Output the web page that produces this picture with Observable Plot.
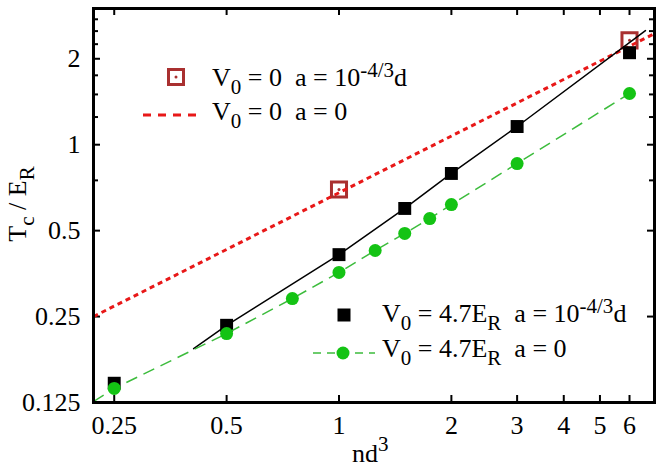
<!DOCTYPE html>
<html><head><meta charset="utf-8">
<script src="https://cdn.jsdelivr.net/npm/d3@7"></script>
<script src="https://cdn.jsdelivr.net/npm/@observablehq/plot@0.6"></script>
<style>
html,body{margin:0;padding:0;background:#fff;}
text{white-space:pre;}
</style></head><body><div id="chart"></div>
<script>
// ---- data ----
// V0 = 4.7 E_R, a = 10^{-4/3} d  (filled black squares)
const sqX = [0.25, 0.5, 1, 1.5, 2, 3, 6];
const sqY = [0.146, 0.233, 0.412, 0.598, 0.793, 1.158, 2.10];
// black solid curve
const fitX = [0.408, 0.5, 1, 1.5, 2, 3, 6.62];
const fitY = [0.193, 0.233, 0.412, 0.598, 0.793, 1.158, 2.51];
// V0 = 4.7 E_R, a = 0 (green circles)
const circX = [0.25, 0.5, 0.75, 1, 1.25, 1.5, 1.75, 2, 3, 6];
const circY = [0.140, 0.218, 0.289, 0.357, 0.426, 0.489, 0.551, 0.617, 0.859, 1.511];
// green dashed line
const greenX = [0.22, 0.25, 0.5, 0.75, 1, 1.25, 1.5, 1.75, 2, 3, 6];
const greenY = [0.126, 0.140, 0.218, 0.289, 0.357, 0.426, 0.489, 0.551, 0.617, 0.859, 1.511];
// V0 = 0, a = 10^{-4/3} d (open red squares)
const openX = [1, 6];
const openY = [0.697, 2.32];
// V0 = 0, a = 0 (red dashed line)
const idealX = [0.22, 7];
const idealY = [0.25, 2.45];
// ticks
const xTicks = [0.25, 0.5, 1, 2, 3, 4, 5, 6];
const xTickLabels = ["0.25", "0.5", "1", "2", "3", "4", "5", "6"];
const yTicks = [0.125, 0.25, 0.5, 1, 2];
const yTickLabels = ["0.125", "0.25", "0.5", "1", "2"];
const yMinor = [0.75, 1.25, 1.5, 1.75, 2.25, 2.5, 2.75];
// texts
const legendTop = ["V_{0} = 0  a = 10^{-4/3}d", "V_{0} = 0  a = 0"];
const legendBottom = ["V_{0} = 4.7E_{R}  a = 10^{-4/3}d", "V_{0} = 4.7E_{R}  a = 0"];
const xLabel = "nd^{3}";
const yLabel = "T_{c} / E_{R}";

// ---- layout ----
const W = 664, H = 468, mL = 93, mR = 10, mT = 8, mB = 66;
const fw = W - mL - mR, fh = H - mT - mB;
const FONT = "'Liberation Serif', 'Times New Roman', serif";
const RED = "#e81818", DARKRED = "#a93030", GREEN = "#14c314", GREENLINE = "#3cbc3c";

function rich(g, str, x, y, opts = {}) {
  const t = g.append("text").attr("x", x).attr("y", y)
    .attr("font-family", FONT).attr("font-size", opts.size || 26)
    .attr("fill", "black").attr("text-anchor", opts.anchor || "start");
  if (opts.transform) t.attr("transform", opts.transform);
  const parts = str.split(/(_\{[^}]*\}|\^\{[^}]*\})/).filter(s => s.length);
  let shift = 0;
  const sub = opts.sub || 8, sup = opts.sup || 9;
  for (const p of parts) {
    let want = 0, txt = p, small = false;
    if (p.startsWith("_{")) { want = sub; txt = p.slice(2, -1); small = true; }
    else if (p.startsWith("^{")) { want = -sup; txt = p.slice(2, -1); small = true; }
    const s = t.append("tspan").text(txt);
    if (want - shift !== 0) s.attr("dy", want - shift);
    if (small) s.attr("font-size", opts.small || 21);
    shift = want;
  }
  return t;
}

const decorations = () => {
  const g = d3.create("svg:g");
  // top-left legend
  g.append("rect").attr("x", 176 - 7.5).attr("y", 77 - 7.5).attr("width", 15).attr("height", 15)
    .attr("fill", "none").attr("stroke", DARKRED).attr("stroke-width", 3);
  g.append("circle").attr("cx", 176).attr("cy", 77).attr("r", 1.5).attr("fill", DARKRED);
  rich(g, legendTop[0], 212, 86);
  g.append("line").attr("x1", 143).attr("x2", 198).attr("y1", 115).attr("y2", 115)
    .attr("stroke", RED).attr("stroke-width", 3).attr("stroke-dasharray", "8,7");
  rich(g, legendTop[1], 212, 120);
  // bottom-right legend
  g.append("rect").attr("x", 344 - 6.5).attr("y", 315 - 6.5).attr("width", 13).attr("height", 13).attr("fill", "black");
  rich(g, legendBottom[0], 382, 322);
  g.append("line").attr("x1", 313).attr("x2", 375).attr("y1", 353).attr("y2", 353)
    .attr("stroke", GREENLINE).attr("stroke-width", 1.5).attr("stroke-dasharray", "8,6");
  g.append("circle").attr("cx", 343).attr("cy", 353).attr("r", 6.5).attr("fill", GREEN);
  rich(g, legendBottom[1], 382, 357);
  // axis labels
  rich(g, xLabel, 352, 462, {sup: 11});
  rich(g, yLabel, 0, 0, {anchor: "middle", transform: "translate(26,204) rotate(-90)"});
  return g.node();
};

const chart = Plot.plot({
  width: W, height: H,
  marginLeft: mL, marginRight: mR, marginTop: mT, marginBottom: mB,
  style: {fontFamily: FONT, fontSize: "26px", background: "white", color: "black"},
  x: {type: "log", domain: [0.22, 7], axis: null},
  y: {type: "log", domain: [0.125, 3], axis: null},
  marks: [
    // tick labels
    Plot.text(xTicks, {x: d => d, text: d => xTickLabels[xTicks.indexOf(d)], frameAnchor: "bottom",
      lineAnchor: "top", dy: 13, fontSize: 26, fill: "black"}),
    Plot.text(yTicks, {y: d => d, text: d => yTickLabels[yTicks.indexOf(d)], frameAnchor: "left",
      textAnchor: "end", dx: -13, fontSize: 26, fill: "black"}),
    // inward ticks
    Plot.tickX(xTicks, {x: d => d, insetTop: fh - 7, strokeWidth: 2}),
    Plot.tickX(xTicks, {x: d => d, insetBottom: fh - 7, strokeWidth: 2}),
    Plot.tickY(yTicks, {y: d => d, insetRight: fw - 7, strokeWidth: 2}),
    Plot.tickY(yTicks, {y: d => d, insetLeft: fw - 7, strokeWidth: 2}),
    Plot.tickY(yMinor, {y: d => d, insetRight: fw - 5, strokeWidth: 2}),
    Plot.tickY(yMinor, {y: d => d, insetLeft: fw - 5, strokeWidth: 2}),
    // series
    Plot.dot(openY, {x: openX, y: openY, symbol: "square", r: 8.5, fill: "none", stroke: DARKRED, strokeWidth: 3, clip: true}),
    Plot.dot(openY, {x: openX, y: openY, r: 1.5, fill: DARKRED, clip: true}),
    Plot.line(idealY, {x: idealX, y: idealY, stroke: RED, strokeWidth: 3, strokeDasharray: "5,4", strokeLinecap: "butt", clip: true}),
    Plot.dot(sqY, {x: sqX, y: sqY, symbol: "square", r: 7.3, fill: "black", clip: true}),
    Plot.line(fitY, {x: fitX, y: fitY, stroke: "black", strokeWidth: 1.5, clip: true}),
    Plot.line(greenY, {x: greenX, y: greenY, stroke: GREENLINE, strokeWidth: 1.5, strokeDasharray: "12,7", strokeLinecap: "butt", clip: true}),
    Plot.dot(circY, {x: circX, y: circY, r: 6.5, fill: GREEN, clip: true}),
    Plot.frame({stroke: "black", strokeWidth: 3}),
    decorations
  ]
});
document.getElementById("chart").appendChild(chart);
</script></body></html>
